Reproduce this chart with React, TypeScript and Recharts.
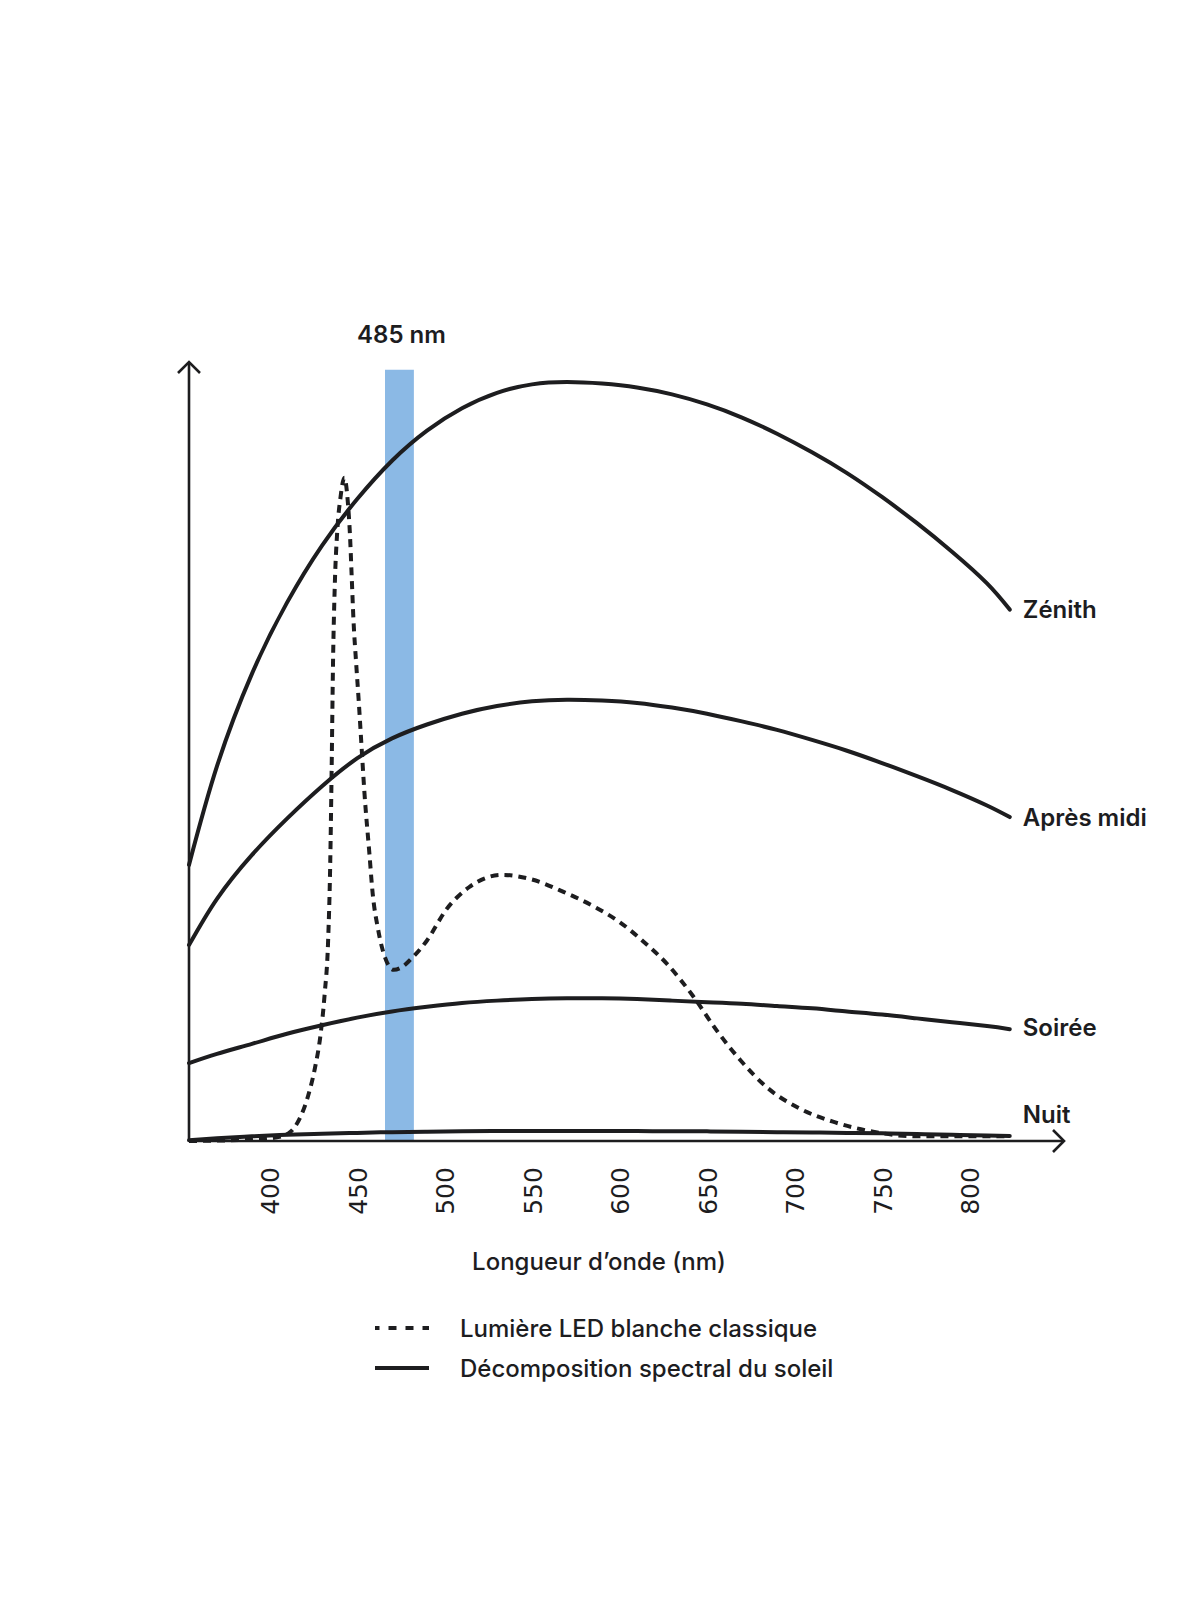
import React from 'react';
import {
  LineChart,
  Line,
  XAxis,
  YAxis,
  ReferenceArea,
  Legend,
} from 'recharts';

// Longueurs d'onde (nm) des courbes solaires
const sunWavelengths = [354, 370, 390, 410, 430, 450, 470, 490, 510, 530, 550, 570, 590, 610, 630, 650, 670, 690, 710, 730, 750, 770, 790, 810, 823];
const zenith = [35.8, 48.6, 60.6, 69.8, 77.2, 83.2, 88.2, 92.1, 95.0, 97.0, 98.1, 98.4, 98.2, 97.7, 96.8, 95.5, 93.8, 91.7, 89.3, 86.6, 83.5, 80.1, 76.4, 72.3, 68.9];
const apresMidi = [25.4, 31.4, 37.1, 41.8, 46.0, 49.6, 52.2, 54.0, 55.4, 56.4, 57.0, 57.2, 57.1, 56.8, 56.2, 55.4, 54.4, 53.3, 52.0, 50.6, 49.0, 47.3, 45.5, 43.5, 42.0];
const soiree = [10.1, 11.3, 12.6, 13.9, 15.0, 16.0, 16.8, 17.4, 17.9, 18.2, 18.4, 18.5, 18.5, 18.4, 18.2, 18.0, 17.8, 17.5, 17.2, 16.8, 16.4, 15.9, 15.4, 14.9, 14.5];
const nuit = [0.1, 0.35, 0.6, 0.8, 0.95, 1.05, 1.15, 1.2, 1.25, 1.3, 1.3, 1.3, 1.3, 1.3, 1.25, 1.25, 1.2, 1.15, 1.1, 1.05, 1.0, 0.9, 0.8, 0.7, 0.65];

// LED blanche classique
const ledWavelengths = [354, 390, 405, 412, 417, 422, 426, 429, 431.5, 433.5, 434.7, 435.5, 436.3, 437.3, 438.7, 440.6, 442.8, 444.7, 446, 447, 448, 449.5, 451, 452.5, 454.3, 457, 459, 462, 466, 471, 476, 480, 490, 501, 514, 533, 550, 568, 587, 600, 613, 627, 642, 655, 669, 684, 703, 722, 745, 770, 823];
const ledValues = [0, 0.2, 0.5, 1.2, 2.8, 5.8, 9.5, 13.5, 19, 26, 36, 48, 62, 72, 79, 83.5, 86, 83, 78.5, 73, 67.5, 62, 57, 51.5, 45, 37.5, 32, 27.5, 23.8, 22.2, 22.6, 23.4, 26, 30, 32.9, 34.5, 33.9, 32.3, 30.2, 28.4, 26.0, 23.0, 18.8, 14.5, 10.5, 7.0, 4.2, 2.5, 1.2, 0.6, 0.6];

const xTicks = [400, 450, 500, 550, 600, 650, 700, 750, 800];
const band = { from: 466, to: 482.5, label: '485 nm' };

const LED_NAME = 'Lumière LED blanche classique';
const SUN_NAME = 'Décomposition spectral du soleil';

const INK = '#1d1d1f';
const LABEL_FONT = 'Inter, "DejaVu Sans", sans-serif';

const toPoints = (xs: number[], ys: number[]) => xs.map((nm, i) => ({ nm, v: ys[i] }));

const sunSeries = [
  { name: 'Zénith', values: zenith, dy: 0 },
  { name: 'Après midi', values: apresMidi, dy: 0 },
  { name: 'Soirée', values: soiree, dy: -2 },
  { name: 'Nuit', values: nuit, dy: -21 },
];

const WaveTick = ({ x, y, payload }: any) => (
  <text
    transform={`translate(${x + 1},${y + 50}) rotate(-90)`}
    textAnchor="middle"
    dominantBaseline="central"
    fill={INK}
    fontFamily='"DejaVu Sans", sans-serif'
    fontWeight={400}
    fontSize={25}
  >
    {payload.value}
  </text>
);

// nom de la courbe au bout de la ligne
const endLabel = (name: string, count: number, dy: number) => (props: any) => {
  if (props.index !== count - 1) return null;
  return (
    <text
      x={props.x + 13}
      y={props.y + dy}
      dominantBaseline="central"
      fill={INK}
      fontFamily={LABEL_FONT}
      fontWeight={600}
      fontSize={24}
    >
      {name}
    </text>
  );
};

const renderLegend = () => {
  const rows = [
    { name: LED_NAME, dash: '8 9', offset: 3.5 },
    { name: SUN_NAME, dash: undefined, offset: 0 },
  ];
  return (
    <div>
      {rows.map((r) => (
        <div key={r.name} style={{ display: 'flex', alignItems: 'center', height: 40 }}>
          <svg width={56} height={10} style={{ display: 'block' }}>
            <line
              x1={1}
              x2={55}
              y1={5}
              y2={5}
              stroke={INK}
              strokeWidth={4}
              strokeDasharray={r.dash}
              strokeDashoffset={r.offset}
            />
          </svg>
          <span
            style={{
              marginLeft: 30,
              fontFamily: LABEL_FONT,
              fontWeight: 500,
              fontSize: 24,
              color: INK,
              whiteSpace: 'nowrap',
            }}
          >
            {r.name}
          </span>
        </div>
      ))}
    </div>
  );
};

export default function App() {
  return (
    <div style={{ position: 'absolute', left: 0, top: 0, width: 1200, height: 1600, background: '#fff' }}>
      <svg width={0} height={0} style={{ position: 'absolute' }}>
        <defs>
          <marker
            id="axisArrow"
            viewBox="0 0 26 26"
            refX={13}
            refY={13}
            markerWidth={26}
            markerHeight={26}
            markerUnits="userSpaceOnUse"
            orient="auto-start-reverse"
          >
            <path d="M2,2 L13,13 L2,24" fill="none" stroke={INK} strokeWidth={2.6} />
          </marker>
        </defs>
      </svg>
      <LineChart width={1200} height={1600} margin={{ top: 362, right: 136, bottom: 319, left: 188 }}>
        <XAxis
          type="number"
          dataKey="nm"
          domain={[354, 854]}
          ticks={xTicks}
          interval={0}
          tickLine={false}
          tickSize={0}
          tickMargin={0}
          tick={<WaveTick />}
          height={140}
          axisLine={{ stroke: INK, strokeWidth: 2.6, markerEnd: 'url(#axisArrow)' }}
          label={(p: any) => (
            <text
              x={599}
              y={1261}
              textAnchor="middle"
              dominantBaseline="central"
              fill={INK}
              fontFamily={LABEL_FONT}
              fontWeight={500}
              fontSize={24}
            >
              Longueur d’onde (nm)
            </text>
          )}
        />
        <YAxis
          type="number"
          domain={[0, 101]}
          width={1}
          tick={false}
          tickLine={false}
          axisLine={{ stroke: INK, strokeWidth: 2.6, markerStart: 'url(#axisArrow)' }}
        />
        <ReferenceArea
          x1={band.from}
          x2={band.to}
          y1={0}
          y2={100}
          fill="#8bb9e5"
          fillOpacity={1}
          stroke="none"
          label={(p: any) => {
            const vb = p.viewBox || {};
            return (
              <text
                x={vb.x + vb.width / 2 + 2}
                y={vb.y - 35}
                textAnchor="middle"
                dominantBaseline="central"
                fill={INK}
                fontFamily={LABEL_FONT}
                fontWeight={600}
                fontSize={24}
              >
                {band.label}
              </text>
            );
          }}
        />
        <Line
          data={toPoints(ledWavelengths, ledValues)}
          dataKey="v"
          name={LED_NAME}
          type="monotone"
          stroke={INK}
          strokeWidth={4}
          strokeDasharray="8 6"
          dot={false}
          activeDot={false}
          isAnimationActive={false}
        />
        {sunSeries.map((s, i) => (
          <Line
            key={s.name}
            data={toPoints(sunWavelengths, s.values)}
            dataKey="v"
            name={i === 0 ? SUN_NAME : s.name}
            legendType={i === 0 ? 'line' : 'none'}
            type="natural"
            stroke={INK}
            strokeWidth={4}
            strokeLinecap="round"
            dot={false}
            activeDot={false}
            label={endLabel(s.name, s.values.length, s.dy)}
            isAnimationActive={false}
          />
        ))}
        <Legend
          layout="horizontal"
          verticalAlign="middle"
          align="center"
          content={renderLegend}
          wrapperStyle={{ left: 374, top: 1308, width: 600 }}
        />
      </LineChart>
    </div>
  );
}
